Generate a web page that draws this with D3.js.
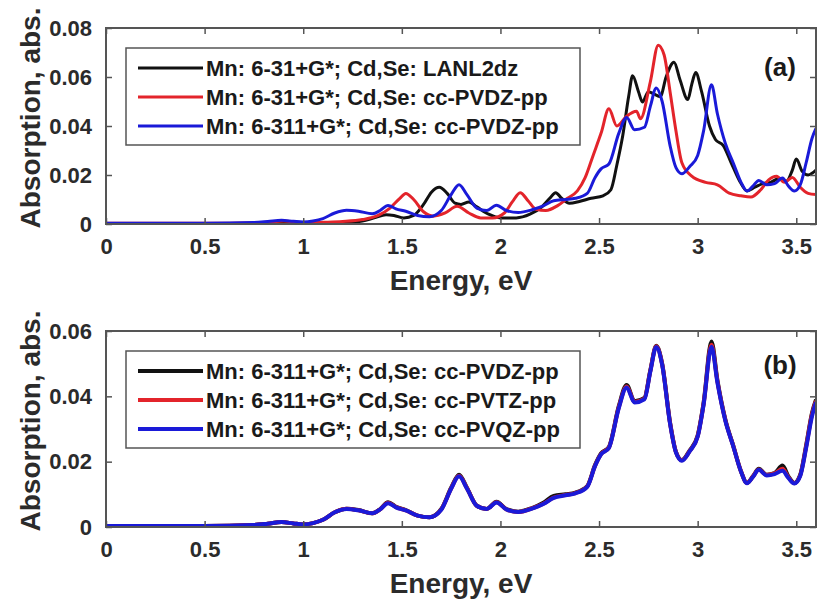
<html>
<head>
  <meta charset="UTF-8">
  <title>Absorption spectra</title>
  <script src="https://d3js.org/d3.v7.min.js"></script>
  <style>
    body { margin: 0; background: white; }
    text { font-family: "Liberation Sans", Arial, sans-serif; font-weight: bold; }
  </style>
</head>
<body>

    <svg id="chart" width="817" height="602"></svg>

    <script>

        // ---- data ----
        // panel (a), black: Mn 6-31+G*, Cd,Se LANL2dz
        const energyA1 = [0, 0.8, 1.0, 1.2, 1.3, 1.36, 1.42, 1.46, 1.51, 1.56, 1.61, 1.65, 1.69, 1.73, 1.77, 1.80, 1.84, 1.88, 1.94, 2.0,
                          2.08, 2.15, 2.21, 2.25, 2.28, 2.31, 2.35, 2.40, 2.46, 2.52, 2.56, 2.59, 2.62, 2.65, 2.67, 2.70, 2.72, 2.75, 2.78, 2.81,
                          2.84, 2.88, 2.91, 2.95, 2.97, 2.99, 3.02, 3.06, 3.09, 3.13, 3.17, 3.21, 3.25, 3.29, 3.33, 3.37, 3.41, 3.45, 3.48, 3.50,
                          3.53, 3.56, 3.60];
        const absA1 = [0.0002, 0.0002, 0.0003, 0.0005, 0.0012, 0.0025, 0.0038, 0.0035, 0.0025, 0.0035, 0.0080, 0.0130, 0.0150, 0.0125, 0.0085, 0.0080, 0.0090, 0.0070, 0.0040, 0.0025,
                       0.0025, 0.0040, 0.0070, 0.0105, 0.0128, 0.0105, 0.0085, 0.0092, 0.0105, 0.0115, 0.0140, 0.0240, 0.0360, 0.0520, 0.0605, 0.0540, 0.0498, 0.0540, 0.0530, 0.0520,
                       0.0600, 0.0660, 0.0590, 0.0508, 0.0570, 0.0618, 0.0540, 0.0400, 0.0345, 0.0320, 0.0250, 0.0180, 0.0135, 0.0150, 0.0165, 0.0170, 0.0185, 0.0175, 0.0220, 0.0265,
                       0.0215, 0.0200, 0.0220];

        // panel (a), red: Mn 6-31+G*, Cd,Se cc-PVDZ-pp
        const energyA2 = [0, 0.5, 0.8, 0.9, 1.0, 1.1, 1.2, 1.3, 1.38, 1.44, 1.49, 1.52, 1.56, 1.61, 1.66, 1.72, 1.78, 1.84, 1.90, 1.96,
                          2.02, 2.06, 2.10, 2.14, 2.18, 2.23, 2.29, 2.34, 2.39, 2.43, 2.47, 2.51, 2.55, 2.59, 2.64, 2.69, 2.71, 2.76, 2.80, 2.83,
                          2.86, 2.89, 2.92, 2.97, 3.04, 3.10, 3.16, 3.22, 3.27, 3.32, 3.36, 3.40, 3.44, 3.48, 3.52, 3.56, 3.60];
        const absA2 = [0.0003, 0.0003, 0.0006, 0.0012, 0.0005, 0.0007, 0.0010, 0.0018, 0.0035, 0.0065, 0.0105, 0.0125, 0.0100, 0.0050, 0.0032, 0.0045, 0.0072, 0.0045, 0.0025, 0.0025,
                       0.0045, 0.0090, 0.0128, 0.0095, 0.0060, 0.0055, 0.0075, 0.0105, 0.0135, 0.0190, 0.0280, 0.0370, 0.0470, 0.0400, 0.0440, 0.0460, 0.0430, 0.0580, 0.0730, 0.0690,
                       0.0540, 0.0380, 0.0250, 0.0195, 0.0170, 0.0160, 0.0126, 0.0115, 0.0110, 0.0140, 0.0180, 0.0195, 0.0170, 0.0190, 0.0150, 0.0125, 0.0120];

        // Mn 6-311+G* series (blue in (a), all three in (b)) share one energy grid
        const energyB = [0, 0.5, 0.75, 0.82, 0.89, 0.95, 1.0, 1.05, 1.1, 1.16, 1.22, 1.28, 1.35, 1.39, 1.43, 1.47, 1.52, 1.58, 1.64, 1.70,
                         1.75, 1.79, 1.83, 1.88, 1.93, 1.98, 2.03, 2.09, 2.16, 2.22, 2.27, 2.33, 2.38, 2.44, 2.48, 2.51, 2.55, 2.60, 2.64, 2.68,
                         2.73, 2.76, 2.79, 2.82, 2.86, 2.89, 2.92, 2.96, 3.00, 3.03, 3.07, 3.10, 3.14, 3.18, 3.22, 3.25, 3.28, 3.31, 3.35, 3.39,
                         3.43, 3.46, 3.49, 3.52, 3.55, 3.58, 3.60];
        // Cd,Se cc-PVDZ-pp
        const absDZ = [0.0003, 0.0003, 0.0006, 0.0010, 0.0015, 0.0011, 0.0008, 0.0012, 0.0022, 0.0045, 0.0056, 0.0052, 0.0042, 0.0055, 0.0076, 0.0062, 0.0052, 0.0035, 0.0030, 0.0055,
                       0.0120, 0.0160, 0.0120, 0.0065, 0.0055, 0.0077, 0.0055, 0.0047, 0.0058, 0.0075, 0.0095, 0.0100, 0.0105, 0.0125, 0.0190, 0.0225, 0.0245, 0.0370, 0.0435, 0.0385,
                       0.0395, 0.0480, 0.0555, 0.0500, 0.0320, 0.0230, 0.0205, 0.0235, 0.0280, 0.0380, 0.0568, 0.0450, 0.0330, 0.0250, 0.0170, 0.0135, 0.0155, 0.0178, 0.0160, 0.0165,
                       0.0188, 0.0155, 0.0135, 0.0160, 0.0250, 0.0350, 0.0390];
        // Cd,Se cc-PVTZ-pp
        const absTZ = [0.0003, 0.0003, 0.0006, 0.0010, 0.0015, 0.0011, 0.0008, 0.0012, 0.0022, 0.0045, 0.0056, 0.0051, 0.0042, 0.0054, 0.0074, 0.0061, 0.0051, 0.0035, 0.0030, 0.0054,
                       0.0118, 0.0157, 0.0119, 0.0065, 0.0055, 0.0076, 0.0054, 0.0046, 0.0057, 0.0072, 0.0090, 0.0098, 0.0104, 0.0124, 0.0188, 0.0223, 0.0243, 0.0366, 0.0430, 0.0383,
                       0.0393, 0.0478, 0.0553, 0.0498, 0.0318, 0.0229, 0.0204, 0.0233, 0.0278, 0.0376, 0.0558, 0.0446, 0.0328, 0.0249, 0.0170, 0.0135, 0.0154, 0.0176, 0.0159, 0.0164,
                       0.0178, 0.0152, 0.0134, 0.0158, 0.0246, 0.0346, 0.0386];
        // Cd,Se cc-PVQZ-pp
        const absQZ = [0.0003, 0.0003, 0.0006, 0.0010, 0.0015, 0.0011, 0.0008, 0.0012, 0.0022, 0.0045, 0.0055, 0.0051, 0.0042, 0.0054, 0.0073, 0.0060, 0.0051, 0.0035, 0.0030, 0.0053,
                       0.0117, 0.0155, 0.0118, 0.0065, 0.0055, 0.0075, 0.0054, 0.0046, 0.0056, 0.0071, 0.0089, 0.0097, 0.0103, 0.0123, 0.0187, 0.0222, 0.0242, 0.0364, 0.0427, 0.0381,
                       0.0391, 0.0476, 0.0551, 0.0496, 0.0316, 0.0228, 0.0203, 0.0232, 0.0276, 0.0374, 0.0552, 0.0443, 0.0326, 0.0248, 0.0169, 0.0134, 0.0153, 0.0175, 0.0158, 0.0162,
                       0.0172, 0.0150, 0.0133, 0.0156, 0.0242, 0.0340, 0.0382];

        const legendA = ["Mn: 6-31+G*; Cd,Se: LANL2dz", "Mn: 6-31+G*; Cd,Se: cc-PVDZ-pp", "Mn: 6-311+G*; Cd,Se: cc-PVDZ-pp"];
        const legendB = ["Mn: 6-311+G*; Cd,Se: cc-PVDZ-pp", "Mn: 6-311+G*; Cd,Se: cc-PVTZ-pp", "Mn: 6-311+G*; Cd,Se: cc-PVQZ-pp"];
        const xTicks = [0, 0.5, 1, 1.5, 2, 2.5, 3, 3.5];
        const yTicksA = [0, 0.02, 0.04, 0.06, 0.08];
        const yTicksB = [0, 0.02, 0.04, 0.06];

        const colors = ["#111111", "#e3242b", "#1a1ad8"];

        // ---- drawing ----
        const svg = d3.select("#chart");
        const axisColor = "#555";
        const textColor = "#2b2b2b";

        const x = d3.scaleLinear().domain([0, 3.6]).range([106, 816]);

        function zip(e, a) { return e.map((v, i) => [v, a[i]]); }

        function drawPanel(cfg) {
            const y = d3.scaleLinear().domain([0, cfg.yMax]).range([cfg.bottom, cfg.top]);
            const g = svg.append("g");

            g.append("clipPath").attr("id", cfg.id + "clip")
                .append("rect")
                .attr("x", x(0)).attr("y", cfg.top)
                .attr("width", x(3.6) - x(0)).attr("height", cfg.bottom - cfg.top);

            const line = d3.line()
                .x(d => x(d[0]))
                .y(d => y(d[1]))
                .curve(d3.curveMonotoneX);

            g.append("g").attr("clip-path", "url(#" + cfg.id + "clip)")
                .selectAll("path.series").data(cfg.series)
                .join("path")
                .attr("class", "series")
                .attr("fill", "none")
                .attr("stroke", (d, i) => colors[i])
                .attr("stroke-width", cfg.lw)
                .attr("stroke-linejoin", "round")
                .attr("d", d => line(d));

            // axes with inward ticks on all four sides
            g.append("g").attr("transform", "translate(0," + cfg.bottom + ")")
                .call(d3.axisBottom(x).tickValues(xTicks).tickSizeInner(-6).tickSizeOuter(0).tickPadding(14).tickFormat(d3.format("")));
            g.append("g").attr("transform", "translate(0," + cfg.top + ")")
                .call(d3.axisTop(x).tickValues(xTicks).tickSizeInner(-6).tickSizeOuter(0).tickFormat(""));
            g.append("g").attr("transform", "translate(" + x(0) + ",0)")
                .call(d3.axisLeft(y).tickValues(cfg.yTicks).tickSizeInner(-6).tickSizeOuter(0).tickPadding(14).tickFormat(d3.format("")));
            g.append("g").attr("transform", "translate(" + x(3.6) + ",0)")
                .call(d3.axisRight(y).tickValues(cfg.yTicks).tickSizeInner(-6).tickSizeOuter(0).tickFormat(""));

            g.selectAll(".domain").remove();
            g.selectAll(".tick line").attr("stroke", axisColor).attr("stroke-width", 1.5);
            g.selectAll(".tick text").attr("fill", textColor).style("font-size", "22px");

            g.append("rect")
                .attr("x", x(0)).attr("y", cfg.top)
                .attr("width", x(3.6) - x(0)).attr("height", cfg.bottom - cfg.top)
                .attr("fill", "none").attr("stroke", axisColor).attr("stroke-width", 2);

            // legend
            const lg = g.append("g");
            lg.append("rect")
                .attr("x", 126).attr("y", cfg.top + 20)
                .attr("width", 454).attr("height", 97)
                .attr("fill", "white").attr("stroke", axisColor).attr("stroke-width", 1.5);
            cfg.labels.forEach((lab, i) => {
                const ly = cfg.top + 40 + i * 29;
                lg.append("line")
                    .attr("x1", 138).attr("x2", 203).attr("y1", ly).attr("y2", ly)
                    .attr("stroke", colors[i]).attr("stroke-width", cfg.lw);
                lg.append("text")
                    .attr("x", 206).attr("y", ly + 8)
                    .attr("fill", "#1a1a1a")
                    .style("font-size", "22px")
                    .text(lab);
            });

            g.append("text")
                .attr("x", 780).attr("y", cfg.top + cfg.tagDy)
                .attr("text-anchor", "middle")
                .attr("fill", "#1a1a1a")
                .style("font-size", "26px")
                .text(cfg.tag);

            g.append("text")
                .attr("x", (x(0) + x(3.6)) / 2).attr("y", cfg.bottom + 66)
                .attr("text-anchor", "middle")
                .attr("fill", textColor)
                .style("font-size", "28px")
                .text("Energy, eV");

            g.append("text")
                .attr("transform", "translate(40," + ((cfg.top + cfg.bottom) / 2 - 8) + ") rotate(-90)")
                .attr("text-anchor", "middle")
                .attr("fill", textColor)
                .style("font-size", "28px")
                .text("Absorption, abs.");
        }

        drawPanel({
            id: "a", top: 28, bottom: 224, yMax: 0.08, yTicks: yTicksA, lw: 3, tag: "(a)", tagDy: 48,
            labels: legendA,
            series: [zip(energyA1, absA1), zip(energyA2, absA2), zip(energyB, absDZ)]
        });

        drawPanel({
            id: "b", top: 331, bottom: 527, yMax: 0.06, yTicks: yTicksB, lw: 4, tag: "(b)", tagDy: 43,
            labels: legendB,
            series: [zip(energyB, absDZ), zip(energyB, absTZ), zip(energyB, absQZ)]
        });

    </script>

</body>
</html>
